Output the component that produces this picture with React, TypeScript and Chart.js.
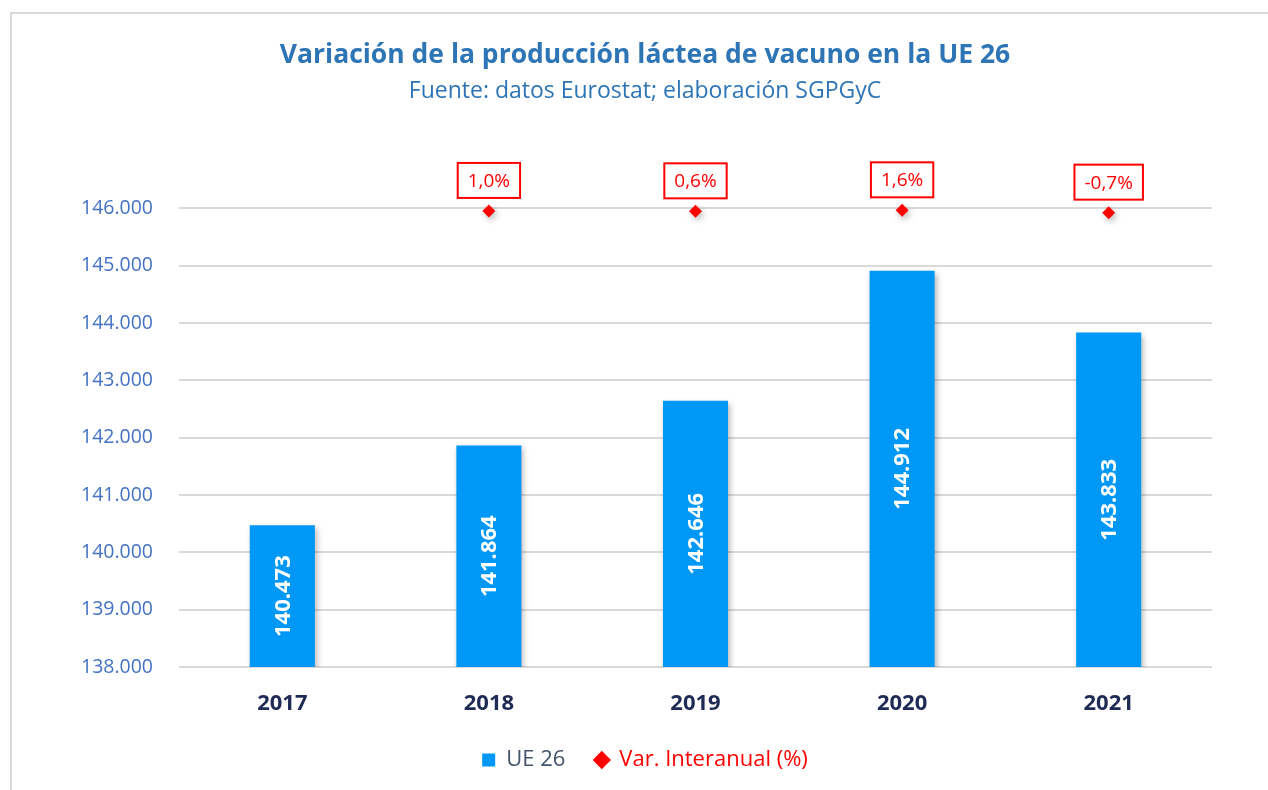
import { useEffect, useRef } from 'react';
import { Chart, registerables } from 'chart.js';

Chart.register(...registerables);

const categories = ['2017', '2018', '2019', '2020', '2021'];
const production = [140473, 141864, 142646, 144912, 143833];
const variation: (number | null)[] = [null, 1.0, 0.6, 1.6, -0.7];
const seriesNames = ['UE 26', 'Var. Interanual (%)'];
const titleText = 'Variación de la producción láctea de vacuno en la UE 26';
const subtitleText = 'Fuente: datos Eurostat; elaboración SGPGyC';
const yMin = 138000;
const yMax = 146000;
const yStep = 1000;

const FONT = '"Open Sans", "Noto Sans", sans-serif';
const BAR_COLOR = '#0098F7';
const RED = '#FF0000';

function fmtThousands(v: number): string {
  return Math.round(v).toString().replace(/\B(?=(\d{3})+(?!\d))/g, '.');
}
function fmtPct(v: number): string {
  return v.toFixed(1).replace('.', ',') + '%';
}

const shadowPlugin = {
  id: 'softShadow',
  beforeDatasetDraw(chart: any) {
    const c = chart.ctx;
    c.save();
    c.shadowColor = 'rgba(0,0,0,0.28)';
    c.shadowBlur = 6;
    c.shadowOffsetX = 2;
    c.shadowOffsetY = 3;
  },
  afterDatasetDraw(chart: any) {
    chart.ctx.restore();
  },
};

const labelPlugin = {
  id: 'valueLabels',
  afterDatasetsDraw(chart: any) {
    const ctx = chart.ctx;
    const xs = chart.scales.x;
    const ys = chart.scales.y;
    const y2 = chart.scales.y2;
    ctx.save();
    ctx.shadowColor = 'rgba(0,0,0,0)';
    ctx.shadowBlur = 0;
    production.forEach((v, i) => {
      const x = xs.getPixelForValue(i);
      const top = ys.getPixelForValue(v);
      const base = ys.getPixelForValue(yMin);
      const cy = (top + base) / 2;
      ctx.save();
      ctx.translate(x, cy);
      ctx.rotate(-Math.PI / 2);
      ctx.font = `bold 22px ${FONT}`;
      ctx.fillStyle = '#FFFFFF';
      ctx.textAlign = 'center';
      ctx.textBaseline = 'middle';
      ctx.fillText(fmtThousands(v), 0, 1);
      ctx.restore();
    });
    variation.forEach((v, i) => {
      if (v === null || v === undefined) return;
      const x = xs.getPixelForValue(i);
      const y = y2.getPixelForValue(v);
      ctx.font = `19px ${FONT}`;
      const text = fmtPct(v);
      const w = ctx.measureText(text).width + 20;
      const h = 35;
      const bottom = y - 13;
      ctx.fillStyle = '#FFFFFF';
      ctx.fillRect(x - w / 2, bottom - h, w, h);
      ctx.strokeStyle = RED;
      ctx.lineWidth = 2;
      ctx.strokeRect(x - w / 2, bottom - h, w, h);
      ctx.fillStyle = RED;
      ctx.textAlign = 'center';
      ctx.textBaseline = 'middle';
      ctx.fillText(text, x, bottom - h / 2 + 1);
    });
    ctx.restore();
  },
};

export default function App() {
  const canvasRef = useRef<HTMLCanvasElement | null>(null);

  useEffect(() => {
    if (!canvasRef.current) return;
    const legendColors = ['#44546A', RED];
    const legendFills = [BAR_COLOR, RED];
    const legendStyles = ['rect', 'rectRot'];
    const chart = new Chart(canvasRef.current, {
      data: {
        labels: categories,
        datasets: [
          {
            type: 'bar',
            label: seriesNames[0],
            data: production,
            backgroundColor: BAR_COLOR,
            borderWidth: 0,
            categoryPercentage: 1,
            barPercentage: 0.315,
            yAxisID: 'y',
            order: 2,
          },
          {
            type: 'line',
            label: seriesNames[1],
            data: variation,
            showLine: false,
            pointStyle: 'rectRot',
            pointRadius: 6.5,
            pointHoverRadius: 6.5,
            backgroundColor: RED,
            borderColor: RED,
            borderWidth: 0,
            yAxisID: 'y2',
            clip: false,
            order: 1,
          },
        ],
      } as any,
      options: {
        animation: false,
        responsive: false,
        maintainAspectRatio: false,
        layout: { padding: { left: 78, right: 56, top: 40, bottom: 9 } },
        plugins: {
          title: {
            display: true,
            text: titleText,
            color: '#2E75B6',
            font: { family: FONT, size: 26.5, weight: 'bold' },
            padding: { top: 0, bottom: 6 },
          },
          subtitle: {
            display: true,
            text: subtitleText,
            color: '#2E75B6',
            font: { family: FONT, size: 23 },
            padding: { top: 0, bottom: 103 },
          },
          legend: {
            position: 'bottom',
            labels: {
              usePointStyle: true,
              boxWidth: 13,
              boxHeight: 13,
              padding: 30,
              font: { family: FONT, size: 22 },
              generateLabels(ch: any) {
                const items = (Chart.defaults.plugins.legend.labels as any).generateLabels(ch);
                items.forEach((it: any) => {
                  const d = it.datasetIndex;
                  it.fontColor = legendColors[d];
                  it.pointStyle = legendStyles[d];
                  it.fillStyle = legendFills[d];
                  it.strokeStyle = 'transparent';
                  it.lineWidth = 0;
                });
                items.sort((a: any, b: any) => a.datasetIndex - b.datasetIndex);
                return items;
              },
            },
          },
          tooltip: { enabled: false },
        },
        scales: {
          x: {
            grid: { display: false },
            border: { display: false },
            ticks: {
              color: '#1F2A55',
              font: { family: FONT, size: 22, weight: 'bold' },
              padding: 16,
            },
            afterFit(scale: any) {
              scale.height = 52;
            },
          },
          y: {
            position: 'left',
            min: yMin,
            max: yMax,
            ticks: {
              stepSize: yStep,
              color: '#4472C4',
              font: { family: FONT, size: 19.5 },
              padding: 26,
              callback: (v: any) => fmtThousands(Number(v)),
            },
            grid: { color: '#D9D9D9', lineWidth: 2, drawTicks: false },
            border: { display: false },
            afterFit(scale: any) {
              scale.width = 101;
            },
          },
          y2: {
            display: false,
            position: 'right',
            min: -450,
            max: 3.5,
          },
        },
      } as any,
      plugins: [shadowPlugin, labelPlugin],
    });
    return () => chart.destroy();
  }, []);

  return (
    <div
      style={{
        position: 'fixed',
        left: 0,
        top: 0,
        width: 1268,
        height: 790,
        overflow: 'hidden',
        background: '#FFFFFF',
      }}
    >
      <div style={{ position: 'absolute', left: 10, top: 12, right: 0, height: 2, background: '#D9D9D9' }} />
      <div style={{ position: 'absolute', left: 10, top: 12, bottom: 0, width: 2, background: '#D9D9D9' }} />
      <canvas ref={canvasRef} width={1268} height={790} style={{ position: 'absolute', left: 0, top: 0 }} />
    </div>
  );
}
